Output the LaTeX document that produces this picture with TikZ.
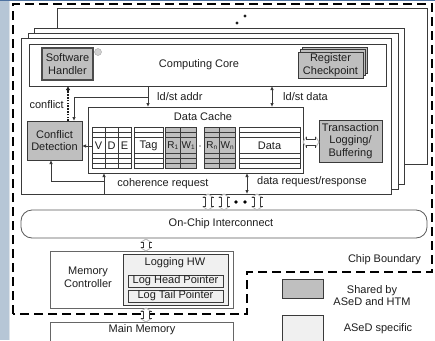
\documentclass[tikz,border=0pt]{standalone}
\usepackage{fontspec}
\setmainfont{Liberation Sans}
\usetikzlibrary{arrows.meta}
\definecolor{strip}{HTML}{B6C6D6}
\definecolor{stripline}{HTML}{DDE3E9}
\definecolor{topline}{HTML}{4E72A0}
\definecolor{shared}{HTML}{BFBFBF}
\definecolor{specific}{HTML}{F0F0F0}
\definecolor{linec}{HTML}{3A3A3A}
\definecolor{txt}{HTML}{1E1E1E}
\definecolor{headc}{HTML}{B4B4B4}
\newcommand\mysub[1]{\raisebox{-0.35ex}{\fontsize{6.5}{7}\selectfont #1}}
\begin{document}
\begin{tikzpicture}[x=1pt,y=-1pt,
  every node/.style={font=\fontsize{11}{12.5}\selectfont, text=txt},
  box/.style={draw=linec, line width=0.8pt, inner sep=0pt, outer sep=0pt, anchor=north west, align=center},
  corebox/.style={box, fill=white, minimum width=370pt, minimum height=156pt},
  sharedbox/.style={box, fill=shared},
  specbox/.style={box, fill=specific},
  plainbox/.style={box, fill=white, draw=gray!80!black},
  lbl/.style={inner sep=0pt, align=center},
  small/.style={font=\fontsize{10}{11}\selectfont},
  arr/.style={draw=linec, line width=0.8pt, -{Latex[length=4pt,width=3.5pt]}},
  darr/.style={draw=linec, line width=0.8pt, {Latex[length=4pt,width=3.5pt]}-{Latex[length=4pt,width=3.5pt]}},
  dotarr/.style={draw=txt, line width=1.4pt, dash pattern=on 1.6pt off 1.2pt, -{Latex[length=4pt,width=4.5pt]}},
  tbl/.style={draw=linec, line width=0.7pt},
  boundary/.style={draw=black, line width=2.3pt, dash pattern=on 9pt off 5pt},
  hshaft/.style={draw=linec, line width=0.8pt},
  hhead/.style={draw=headc, line width=0.8pt, fill=white},
  vhollow/.pic={
    \path[fill=white] (-5.5,-#1+3.5) -- (0,-#1) -- (5.5,-#1+3.5) -- (3,-#1+3.5) -- (3,#1-3.5) -- (5.5,#1-3.5) -- (0,#1) -- (-5.5,#1-3.5) -- (-3,#1-3.5) -- (-3,-#1+3.5) -- cycle;
    \draw[hhead] (-5.5,-#1+3.5) -- (0,-#1) -- (5.5,-#1+3.5) (-5.5,#1-3.5) -- (0,#1) -- (5.5,#1-3.5);
    \draw[hshaft] (-5.5,-#1+3.5) -- (-3,-#1+3.5) -- (-3,#1-3.5) -- (-5.5,#1-3.5)
                  (5.5,-#1+3.5) -- (3,-#1+3.5) -- (3,#1-3.5) -- (5.5,#1-3.5);
  }
]
\useasboundingbox (0,0) rectangle (435,340);
\clip (0,0) rectangle (435,340);
\fill[white] (0,0) rectangle (435,340);
\fill[strip] (0,0) rectangle (8.5,340);
\draw[stripline, line width=1pt] (9.5,0) -- (9.5,340);
\draw[topline, line width=1pt] (0,0.5) -- (435,0.5);

% stacked cores
\node[corebox] (back) at (57,8) {};
\node[corebox] (core2) at (34,28) {};
\node[corebox] (core3) at (28,33) {};
\node[corebox] (front) at (21,38) {};
\fill[txt] (237,23) circle (1.6) (245,16) circle (1.6);

% computing core
\node[box, fill=white, minimum width=357pt, minimum height=42pt] (core) at (29,44) {};
\node[lbl] (coreT) at (199,65) {Computing Core};
\node[sharedbox, draw=gray!60!black, line width=1.4pt, minimum width=51pt, minimum height=32pt] (swh) at (42,48) {Software\\Handler};
\filldraw[fill=gray!35, draw=gray!70] (98,52) circle (3.5);
\node[sharedbox, minimum width=65pt, minimum height=26pt] (rc3) at (302.4,47.6) {};
\node[sharedbox, minimum width=65pt, minimum height=26pt] (rc2) at (300.2,49.8) {};
\node[sharedbox, minimum width=65pt, minimum height=26pt] (rc) at (298,52) {Register\\Checkpoint};

% data cache
\node[box, fill=white, minimum width=215pt, minimum height=66pt] (cache) at (88,107) {};
\node[lbl] (cacheT) at (203,117) {Data Cache};
\fill[shared] (165,127) rectangle (196,168) (204,127) rectangle (235,168);
\foreach \a/\b in {92/131,134/163,165/196,204/235,239/300}{
  \draw[tbl] (\a,127) rectangle (\b,168);
  \foreach \y in {132,137,153,158,163} \draw[tbl] (\a,\y) -- (\b,\y);
}
\foreach \x in {105,118,180.5,219.5} \draw[tbl] (\x,127) -- (\x,168);
\node[lbl] (tV) at (98.5,145.5) {V};
\node[lbl] (tD) at (111.5,145.5) {D};
\node[lbl] (tE) at (124.5,145.5) {E};
\node[lbl] (tTag) at (148.5,145.5) {Tag};
\node[lbl, small] (tR1) at (172.75,145.5) {R\mysub{1}};
\node[lbl, small] (tW1) at (188.25,145.5) {W\mysub{1}};
\fill[gray] (200,146) circle (0.9);
\node[lbl, small] (tRn) at (211.75,145.5) {R\mysub{n}};
\node[lbl, small] (tWn) at (227.25,145.5) {W\mysub{n}};
\node[lbl] (tData) at (269.5,145.5) {Data};

% conflict detection and logging
\node[sharedbox, minimum width=55pt, minimum height=39pt] (conflict) at (27,121) {Conflict\\Detection};
\node[sharedbox, minimum width=63pt, minimum height=42pt] (tlb) at (319,120) {Transaction\\Logging/\\Buffering};

% connectors
\coordinate (cA) at (148,97);
\coordinate (cB) at (74,97);
\coordinate (cC) at (68,0);
\coordinate (cD) at (104,181);
\coordinate (cE) at (51,181);
\coordinate (cF) at (247,0);
\coordinate (cG) at (272,0);
\coordinate (cH) at (92,146);
\draw[arr] (cA |- core.south) -- (cA |- cache.north);
\draw[arr] (cA) -- (cB) -- (cB |- conflict.north);
\draw[dotarr] (cC |- conflict.north) -- (cC |- core.south);
\draw[arr] (cH) -- (cH -| conflict.east);
\draw[arr] (cD |- front.south) -- (cD |- cache.south);
\draw[arr] (cD) -- (cE) -- (cE |- conflict.south);
\draw[darr] (cF |- cache.south) -- (cF |- front.south);
\draw[darr] (cG |- core.south) -- (cG |- cache.north);
\pic[rotate=90] at (311,142) {vhollow=8};

\node[lbl, anchor=west] (lAddr) at (157,97) {ld/st addr};
\node[lbl, anchor=west] (lData) at (283,97) {ld/st data};
\node[lbl, anchor=east] (lConf) at (64,105) {conflict};
\node[lbl, anchor=west] (lDreq) at (257,182) {data request/response};
\node[lbl] (lCoh) at (163,184) {coherence request};

% interconnect
\node[box, fill=white, draw=gray!70!black, rounded corners=11pt, minimum width=406pt, minimum height=28pt] (noc) at (21,210) {};
\node[lbl] (nocT) at (221,224) {On-Chip Interconnect};
\pic at (208,202) {vhollow=8};
\pic at (224,202) {vhollow=8};
\pic at (257,202) {vhollow=8};
\fill[black] (236,202) circle (1.8) (245,202) circle (1.8);

% memory side
\node[plainbox, minimum width=183pt, minimum height=57pt] (mc) at (50,251) {};
\node[lbl] (mcT) at (88,277.5) {Memory\\Controller};
\node[specbox, minimum width=105pt, minimum height=51pt] (loghw) at (123,254) {};
\node[lbl] (loghwT) at (175,263) {Logging HW};
\node[specbox, minimum width=95pt, minimum height=12pt] (lhead) at (128,275) {Log Head Pointer};
\node[specbox, minimum width=95pt, minimum height=12pt] (ltail) at (128,290) {Log Tail Pointer};
\node[plainbox, minimum width=183pt, minimum height=40pt] (mm) at (50,322) {};
\node[lbl] (mmT) at (142,330) {Main Memory};

% chip boundary
\draw[boundary] (13,314) -- (13,4) -- (432,4) -- (432,272) -- (247,272) -- (247,314) -- cycle;
\node[lbl, anchor=east] (cbT) at (421,260) {Chip Boundary};
\pic at (146,245) {vhollow=6};
\pic at (146,315) {vhollow=7};

% legend
\node[sharedbox, minimum width=41pt, minimum height=19pt] (lg1) at (282,279) {};
\node[lbl] (lg1T) at (372,295.5) {Shared by\\ASeD and HTM};
\node[specbox, minimum width=41pt, minimum height=30pt] (lg2) at (282,315) {};
\node[lbl] (lg2T) at (378,329) {ASeD specific};
\end{tikzpicture}
\end{document}
